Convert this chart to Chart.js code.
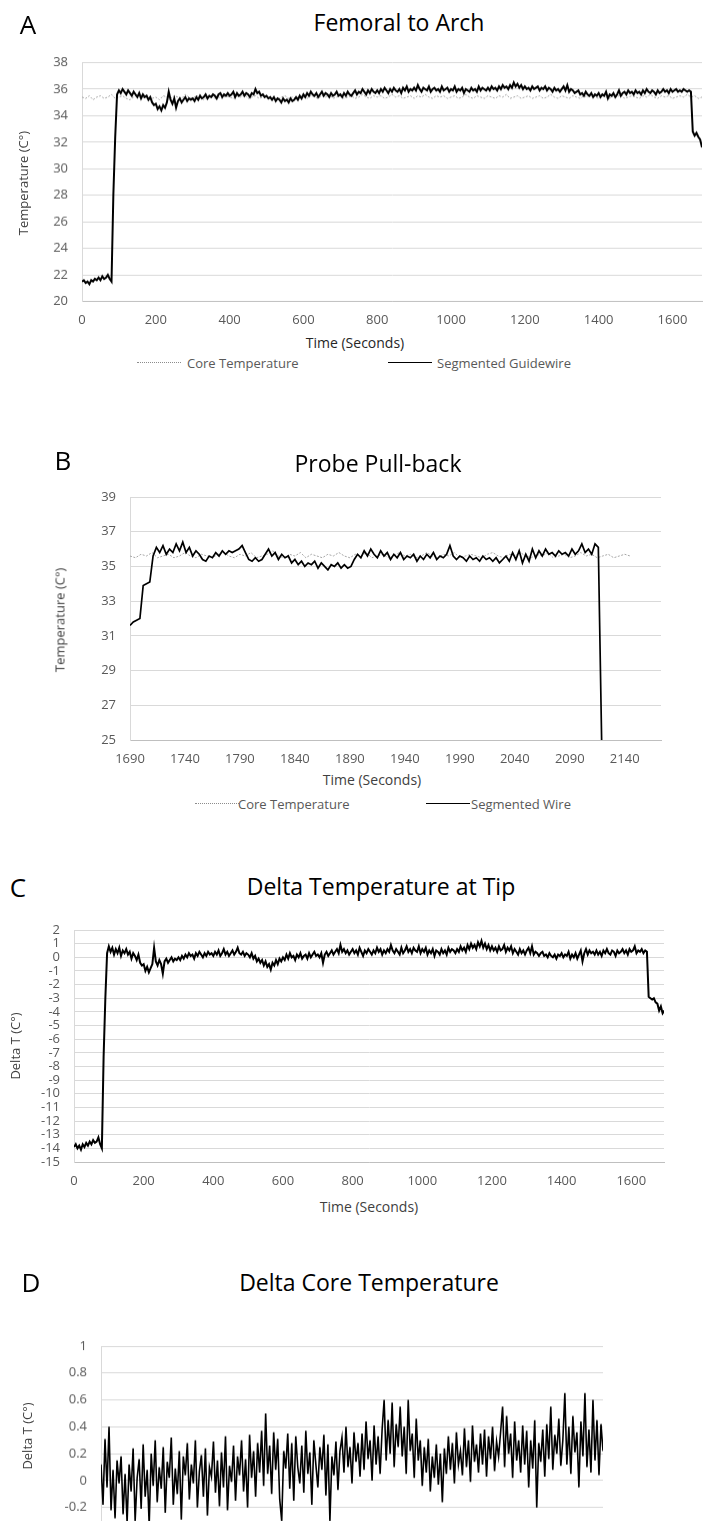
<!DOCTYPE html>
<html>
<head>
<meta charset="utf-8">
<script src="https://cdn.jsdelivr.net/npm/chart.js@4/dist/chart.umd.min.js"></script>
<style>
  html, body { margin: 0; padding: 0; background: #fff; overflow: hidden; }
  #page { position: relative; width: 703px; height: 1521px; overflow: hidden; font-family: 'Open Sans', sans-serif; }
  .panel { position: absolute; left: 0; width: 703px; }
  .label { position: absolute; white-space: nowrap; line-height: 1; }
</style>
</head>
<body>
<div id="page">
  <div class="panel" id="panelA"><canvas id="archChart"></canvas></div>
  <div class="panel" id="panelB"><canvas id="pullbackChart"></canvas></div>
  <div class="panel" id="panelC"><canvas id="tipDeltaChart"></canvas></div>
  <div class="panel" id="panelD"><canvas id="coreDeltaChart"></canvas></div>
</div>
<script>
// ---- Data ----

// A: Femoral to Arch (seconds). Segmented guidewire sampled every 5 s, core every 10 s.
const archSegStart = 0, archSegStep = 5;
const archSegmented = [
  21.5, 21.6, 21.4, 21.5, 21.3, 21.6, 21.5, 21.7, 21.6, 21.8, 21.6, 21.9, 21.7, 21.8, 22.0, 21.7, 21.5, 28.1, 32.4, 35.6,
  35.9, 35.7, 36.0, 35.8, 35.6, 35.9, 35.7, 35.5, 35.8, 35.6, 35.4, 35.7, 35.3, 35.6, 35.4, 35.5, 35.2, 35.4, 35.0, 34.8,
  34.9, 34.5, 34.7, 34.4, 34.8, 34.6, 35.0, 35.8, 35.2, 34.9, 35.3, 34.6, 35.1, 35.3, 35.0, 35.2, 35.4, 35.1, 35.3, 35.2,
  35.3, 35.1, 35.4, 35.2, 35.5, 35.3, 35.4, 35.6, 35.3, 35.5, 35.4, 35.6, 35.5, 35.3, 35.6, 35.7, 35.4, 35.6, 35.5, 35.7,
  35.5, 35.6, 35.8, 35.4, 35.7, 35.5, 35.6, 35.8, 35.5, 35.7, 35.6, 35.4, 35.7, 35.6, 36.0, 35.7, 35.8, 35.5, 35.6, 35.4,
  35.5, 35.3, 35.4, 35.2, 35.4, 35.1, 35.3, 35.2, 35.0, 35.3, 35.1, 35.2, 35.0, 35.3, 35.1, 35.2, 35.4, 35.2, 35.5, 35.3,
  35.6, 35.4, 35.7, 35.5, 35.8, 35.6, 35.5, 35.7, 35.4, 35.6, 35.8, 35.5, 35.7, 35.6, 35.4, 35.7, 35.5, 35.6, 35.8, 35.5,
  35.6, 35.4, 35.7, 35.5, 35.8, 35.6, 35.5, 35.7, 35.9, 35.6, 35.8, 35.7, 36.0, 35.8, 35.6, 35.9, 35.7, 36.0, 35.8, 35.7,
  35.9, 35.7, 36.0, 35.8, 36.1, 35.9, 35.7, 36.0, 35.8, 36.1, 35.9, 35.8, 36.0, 35.7, 36.1, 35.9, 36.2, 35.8, 36.0, 35.9,
  36.1, 35.9, 36.3, 36.0, 35.8, 36.1, 36.0, 35.9, 36.2, 35.8, 36.0, 36.1, 35.9, 36.0, 35.8, 36.2, 35.9, 36.0, 36.1, 35.8,
  36.0, 35.9, 36.2, 35.8, 36.0, 35.9, 36.1, 35.7, 36.0, 35.9, 35.8, 36.1, 35.9, 36.0, 35.8, 36.2, 35.9, 36.1, 36.0, 35.9,
  36.1, 35.9, 36.2, 36.0, 36.1, 35.9, 36.2, 36.0, 36.3, 36.1, 36.2, 36.0, 36.3, 36.1, 36.5, 36.2, 36.4, 36.1, 36.3, 36.0,
  36.2, 36.0, 36.1, 35.9, 36.2, 36.0, 36.1, 36.2, 35.9, 36.1, 36.0, 36.2, 35.9, 36.1, 36.0, 35.8, 36.1, 35.9, 36.0, 35.8,
  36.0, 36.2, 35.9, 36.3, 35.8, 36.0, 35.9, 35.7, 35.8, 35.9, 35.6, 35.7, 35.5, 35.8, 35.6, 35.5, 35.7, 35.4, 35.6, 35.5,
  35.7, 35.4, 35.6, 35.5, 35.8, 35.3, 35.6, 35.5, 35.7, 35.4, 35.6, 35.9, 35.5, 35.7, 35.8, 35.6, 35.9, 35.7, 35.8, 35.6,
  35.9, 35.7, 35.8, 35.6, 35.9, 35.7, 36.0, 35.8, 35.7, 35.9, 35.8, 35.6, 35.9, 35.7, 35.8, 36.0, 35.8, 35.9, 35.7, 36.0,
  35.8, 35.9, 36.0, 35.8, 35.9, 35.8, 36.0, 35.9, 35.8, 35.9, 35.8, 32.8, 32.5, 32.7, 32.4, 32.2, 31.6, 31.4
];
const archCoreStart = 0, archCoreStep = 10;
const archCore = [
  35.4, 35.3, 35.5, 35.2, 35.4, 35.5, 35.3, 35.4, 35.6, 35.3,
  35.4, 35.5, 35.3, 35.2, 35.4, 35.6, 35.3, 35.4, 35.5, 35.3,
  35.4, 35.2, 35.5, 35.4, 35.3, 35.5, 35.4, 35.3, 35.6, 35.4,
  35.3, 35.5, 35.4, 35.2, 35.4, 35.5, 35.3, 35.4, 35.3, 35.5,
  35.4, 35.3, 35.5, 35.4, 35.6, 35.3, 35.4, 35.5, 35.3, 35.4,
  35.5, 35.3, 35.4, 35.2, 35.4, 35.5, 35.3, 35.4, 35.3, 35.5,
  35.4, 35.3, 35.5, 35.4, 35.3, 35.5, 35.4, 35.6, 35.3, 35.4,
  35.5, 35.3, 35.4, 35.5, 35.3, 35.4, 35.6, 35.4, 35.3, 35.5,
  35.4, 35.5, 35.3, 35.4, 35.6, 35.4, 35.5, 35.3, 35.4, 35.5,
  35.3, 35.5, 35.4, 35.6, 35.4, 35.3, 35.5, 35.4, 35.5, 35.3,
  35.4, 35.5, 35.3, 35.4, 35.6, 35.4, 35.3, 35.5, 35.4, 35.3,
  35.5, 35.4, 35.3, 35.5, 35.4, 35.6, 35.3, 35.4, 35.5, 35.3,
  35.4, 35.5, 35.3, 35.4, 35.5, 35.3, 35.4, 35.6, 35.4, 35.3,
  35.5, 35.4, 35.3, 35.5, 35.4, 35.3, 35.5, 35.4, 35.6, 35.4,
  35.3, 35.5, 35.4, 35.3, 35.5, 35.4, 35.6, 35.3, 35.4, 35.5,
  35.4, 35.3, 35.5, 35.4, 35.6, 35.4, 35.3, 35.5, 35.4, 35.5,
  35.3, 35.4, 35.5, 35.4, 35.6, 35.4, 35.5, 35.3, 35.4
];
const archTimeTicks = [0, 200, 400, 600, 800, 1000, 1200, 1400, 1600];

// B: Probe Pull-back. Wire sampled every 3 s, core every 5 s, both from 1690 s.
const pullSegStart = 1690, pullSegStep = 3;
const pullSegmented = [
  31.6, 31.8, 31.9, 32.0, 33.9, 34.0, 34.1, 35.6, 36.1, 35.8,
  36.2, 35.7, 36.0, 35.8, 36.3, 35.9, 36.4, 35.8, 36.1, 35.6,
  35.9, 35.7, 35.4, 35.3, 35.6, 35.5, 35.8, 35.6, 35.9, 35.7,
  35.9, 35.8, 35.9, 36.0, 36.2, 35.8, 35.4, 35.3, 35.5, 35.3,
  35.4, 35.7, 36.0, 35.6, 35.8, 35.4, 35.7, 35.5, 35.6, 35.2,
  35.4, 35.1, 35.3, 35.0, 35.2, 35.1, 35.3, 34.9, 35.2, 35.0,
  34.8, 35.1, 35.0, 35.2, 34.9, 35.1, 34.9, 35.0, 35.4, 35.7,
  35.5, 35.9, 35.6, 36.0, 35.7, 35.5, 35.9, 35.6, 35.8, 35.4,
  35.7, 35.5, 35.8, 35.4, 35.6, 35.5, 35.7, 35.3, 35.6, 35.4,
  35.7, 35.5, 35.8, 35.4, 35.6, 35.5, 35.7, 36.2, 35.6, 35.4,
  35.6, 35.5, 35.3, 35.6, 35.4, 35.5, 35.3, 35.6, 35.4, 35.5,
  35.3, 35.5, 35.2, 35.4, 35.6, 35.3, 35.8, 35.4, 35.9, 35.2,
  35.7, 35.3, 36.0, 35.5, 35.9, 35.6, 36.0, 35.7, 35.8, 35.6,
  35.9, 35.7, 35.8, 35.6, 36.0, 35.7, 35.9, 36.3, 35.8, 36.0,
  35.7, 36.3, 36.1, 25.0, 23.0
];
const pullCoreStart = 1690, pullCoreStep = 5;
const pullCore = [
  35.6, 35.5, 35.7, 35.6, 35.8, 35.5, 35.6, 35.7, 35.5, 35.6,
  35.8, 35.6, 35.5, 35.7, 35.6, 35.5, 35.7, 35.8, 35.6, 35.5,
  35.7, 35.6, 35.8, 35.5, 35.6, 35.7, 35.9, 35.6, 35.5, 35.7,
  35.6, 35.8, 35.5, 35.7, 35.6, 35.5, 35.7, 35.6, 35.8, 35.6,
  35.5, 35.7, 35.6, 35.8, 35.5, 35.6, 35.7, 35.5, 35.6, 35.8,
  35.6, 35.7, 35.5, 35.6, 35.8, 35.6, 35.5, 35.7, 35.6, 35.8,
  35.5, 35.6, 35.7, 35.6, 35.5, 35.7, 35.8, 35.6, 35.5, 35.7,
  35.6, 35.8, 35.6, 35.5, 35.7, 35.6, 35.8, 35.5, 35.6, 35.7,
  35.5, 35.6, 35.8, 35.6, 35.7, 35.5, 35.6, 35.7, 35.5, 35.6,
  35.7, 35.6
];
const pullTimeTicks = [1690, 1740, 1790, 1840, 1890, 1940, 1990, 2040, 2090, 2140];

// C: Delta temperature at tip, every 5 s
const tipStart = 0, tipStep = 5;
const tipDelta = [
  -13.9, -13.7, -14.0, -13.8, -14.1, -13.7, -13.9, -13.6, -13.8, -13.5, -13.7, -13.4, -13.6, -13.5, -13.2, -13.7, -14.0, -7.3, -3.0, 0.3,
  0.8, 0.4, 0.7, 0.2, 0.6, 0.3, 0.7, 0.1, 0.5, 0.3, 0.6, 0.2, 0.4, -0.1, 0.3, 0.1, -0.2, 0.2, -0.4, -0.6,
  -0.5, -1.0, -0.7, -1.1, -0.8, -0.5, 0.7, -0.3, -0.6, -0.2, -0.5, -1.2, -0.3, -0.1, -0.4, -0.2, 0.0, -0.3, -0.1, -0.2,
  0.0, -0.2, 0.1, -0.1, 0.2, 0.0, 0.3, 0.1, 0.2, -0.1, 0.3, 0.1, 0.4, 0.2, 0.0, 0.3, 0.1, 0.4, 0.2, 0.3,
  0.1, 0.4, 0.2, 0.5, 0.1, 0.3, 0.6, 0.2, 0.4, 0.1, 0.3, 0.5, 0.2, 0.4, 0.7, 0.3, 0.2, 0.4, 0.1, 0.3,
  0.2, 0.0, 0.3, -0.1, 0.1, -0.3, -0.1, -0.4, -0.2, -0.6, -0.3, -0.7, -0.5, -0.9, -0.4, -0.6, -0.2, -0.5, -0.1, -0.3,
  0.0, -0.2, 0.2, -0.1, 0.3, 0.0, 0.1, -0.2, 0.2, 0.0, 0.3, -0.1, 0.1, 0.2, -0.1, 0.3, 0.0, 0.2, 0.4, 0.1,
  0.2, 0.0, 0.3, -0.4, 0.2, 0.4, 0.1, 0.3, 0.5, 0.2, 0.4, 0.6, 0.3, 0.9, 0.4, 0.6, 0.3, 0.5, 0.2, 0.4,
  0.6, 0.3, 0.5, 0.2, 0.7, 0.4, 0.1, 0.5, 0.3, 0.6, 0.4, 0.2, 0.5, 0.3, 0.7, 0.4, 0.6, 0.2, 0.5, 0.3,
  0.6, 0.4, 0.9, 0.5, 0.3, 0.6, 0.4, 0.2, 0.7, 0.3, 0.5, 0.8, 0.4, 0.6, 0.3, 0.7, 0.5, 0.4, 0.8, 0.3,
  0.6, 0.4, 0.7, 0.2, 0.5, 0.3, 0.6, 0.1, 0.5, 0.4, 0.2, 0.6, 0.3, 0.5, 0.2, 0.7, 0.4, 0.6, 0.5, 0.3,
  0.6, 0.4, 0.8, 0.5, 0.7, 0.4, 0.9, 0.6, 1.0, 0.7, 0.9, 0.6, 1.1, 0.8, 1.2, 0.7, 1.0, 0.6, 0.9, 0.5,
  0.8, 0.5, 0.7, 0.4, 0.8, 0.5, 0.6, 0.9, 0.4, 0.7, 0.5, 0.8, 0.3, 0.6, 0.4, 0.2, 0.6, 0.3, 0.5, 0.2,
  0.5, 0.7, 0.3, 0.8, 0.2, 0.4, 0.3, 0.1, 0.3, 0.4, 0.1, 0.2, 0.0, 0.3, 0.1, 0.0, 0.2, -0.1, 0.2, 0.1,
  0.3, 0.0, 0.2, 0.1, 0.4, -0.1, 0.2, 0.0, 0.3, -0.1, 0.2, 0.5, -0.3, 0.3, 0.6, 0.2, 0.5, 0.3, 0.4, 0.2,
  0.5, 0.2, 0.4, 0.1, 0.5, 0.3, 0.6, 0.3, 0.2, 0.5, 0.4, 0.1, 0.5, 0.3, 0.4, 0.6, 0.3, 0.5, 0.2, 0.6,
  0.4, 0.5, 0.8, 0.3, 0.5, 0.4, 0.6, 0.3, 0.5, 0.4, -2.9, -3.0, -3.1, -3.0, -3.3, -3.4, -3.9, -3.6, -4.1, -3.9
];
const tipTimeTicks = [0, 200, 400, 600, 800, 1000, 1200, 1400, 1600];

// D: Delta core temperature, successive samples
const coreDelta = [
  0.12, -0.18, 0.31, -0.05, 0.40, -0.22, 0.08, -0.28, 0.15, -0.02,
  0.18, -0.25, 0.05, -0.31, 0.12, -0.08, 0.24, -0.30, 0.02, 0.16,
  -0.21, 0.27, -0.12, 0.08, -0.33, 0.20, -0.04, 0.30, -0.16, 0.10,
  -0.06, 0.25, -0.24, 0.14, 0.02, 0.32, -0.18, 0.09, -0.10, 0.22,
  -0.29, 0.18, 0.04, 0.28, -0.14, 0.12, -0.02, 0.30, -0.20, 0.07,
  0.19, -0.12, 0.24, -0.26, 0.10, 0.03, 0.29, -0.09, 0.15, -0.19,
  0.21, -0.05, 0.33, -0.22, 0.11, -0.01, 0.26, -0.15, 0.18, 0.04,
  0.30, -0.08, 0.16, -0.20, 0.34, 0.02, 0.22, -0.12, 0.28, 0.06,
  0.37, -0.04, 0.50, 0.05, 0.26, -0.10, 0.36, 0.08, 0.31, -0.14,
  -0.30, 0.22, 0.09, 0.35, -0.06, 0.28, -0.15, 0.33, 0.10, -0.02,
  0.26, -0.09, 0.37, 0.05, 0.21, -0.18, 0.30, 0.12, -0.05, 0.25,
  0.08, 0.34, -0.11, 0.27, -0.30, 0.18, 0.04, 0.29, -0.07, 0.22,
  0.32, 0.06, 0.40, 0.10, 0.25, -0.02, 0.36, 0.14, 0.28, 0.03,
  0.35, 0.08, 0.44, 0.16, 0.30, 0.00, 0.41, 0.12, 0.33, 0.05,
  0.38, 0.60, 0.15, 0.45, 0.20, 0.58, 0.10, 0.42, 0.25, 0.55,
  0.18, 0.40, 0.05, 0.60, 0.22, 0.35, 0.02, 0.46, 0.15, 0.30,
  -0.04, 0.25, 0.06, 0.31, -0.08, 0.18, 0.02, 0.27, -0.03, 0.20,
  -0.16, 0.24, 0.05, 0.33, 0.08, 0.28, -0.02, 0.36, 0.12, 0.22,
  0.04, 0.39, 0.10, 0.30, -0.01, 0.41, 0.14, 0.27, 0.06, 0.35,
  0.12, 0.38, 0.03, 0.33, 0.16, 0.40, 0.07, 0.29, 0.18, 0.36,
  0.55, 0.10, 0.48, 0.20, 0.35, 0.02, 0.44, 0.15, 0.30, 0.06,
  0.41, 0.12, 0.37, -0.05, 0.30, 0.09, 0.45, -0.20, 0.28, 0.14,
  0.38, 0.03, 0.42, 0.16, 0.55, 0.08, 0.34, 0.20, 0.46, 0.11,
  0.30, 0.65, 0.12, 0.40, 0.05, 0.48, 0.21, 0.36, -0.05, 0.44,
  0.18, 0.65, 0.10, 0.38, 0.06, 0.60, 0.15, 0.45, 0.04, 0.42, 0.22
];

// ---- Styling ----
const theme = {
  ink: '#000000',
  core: '#a6a6a6',
  grid: '#d9d9d9',
  axisLine: '#bfbfbf',
  tick: '#595959',
  axisTitle: '#404040'
};
Chart.defaults.font.family = "'Open Sans', sans-serif";
Chart.defaults.font.size = 13;
Chart.defaults.color = theme.tick;

const page = document.getElementById('page');

// pair sample times with read values
function toPoints(values, start, step) {
  return values.map((y, i) => ({ x: start + i * step, y }));
}

function placeText(text, x, y, size, color, rotate) {
  const el = document.createElement('div');
  el.className = 'label';
  el.textContent = text;
  el.style.left = x + 'px';
  el.style.top = y + 'px';
  el.style.fontSize = size + 'px';
  el.style.color = color;
  el.style.transform = 'translate(-50%, -50%)' + (rotate ? ' rotate(-90deg)' : '');
  page.appendChild(el);
}

// legend swatches built from the chart's own datasets
function placeLegend(chart, y, slots) {
  chart.data.datasets.forEach((ds, i) => {
    const line = document.createElement('div');
    line.style.cssText = `position:absolute;left:${slots[i][0]}px;top:${y - 1}px;width:44px;` +
      `border-top:${ds.borderDash ? '1.5px dotted' : '1.5px solid'} ${ds.borderDash ? '#8c8c8c' : ds.borderColor};`;
    page.appendChild(line);
    const el = document.createElement('div');
    el.className = 'label';
    el.textContent = ds.label;
    el.style.cssText += `left:${slots[i][1]}px;top:${y}px;font-size:13px;color:${theme.tick};transform:translate(0,-50%);`;
    page.appendChild(el);
  });
}

function lineChart(canvasId, geo, datasets, xCfg, yCfg) {
  const wrap = document.getElementById(canvasId).parentElement;
  wrap.style.top = geo.top + 'px';
  wrap.style.height = geo.height + 'px';
  return new Chart(document.getElementById(canvasId), {
    type: 'line',
    data: { datasets },
    options: {
      responsive: true,
      maintainAspectRatio: false,
      animation: false,
      layout: { padding: { top: geo.padTop, right: geo.padRight, left: 0, bottom: 0 } },
      plugins: { legend: { display: false }, tooltip: { enabled: false } },
      elements: { point: { radius: 0 }, line: { tension: 0 } },
      scales: {
        x: {
          type: 'linear',
          min: xCfg.min,
          max: xCfg.max,
          afterBuildTicks: axis => { axis.ticks = xCfg.ticks.map(value => ({ value })); },
          afterFit: axis => { axis.height = 30; },
          grid: { drawOnChartArea: false, drawTicks: false },
          border: { color: theme.axisLine },
          ticks: { display: xCfg.ticks.length > 0, padding: 11, autoSkip: false, maxRotation: 0, callback: v => String(v) }
        },
        y: {
          min: yCfg.min,
          max: yCfg.max,
          afterFit: axis => { axis.width = geo.yWidth; },
          grid: { color: theme.grid, drawTicks: false },
          border: { color: theme.grid },
          ticks: { stepSize: yCfg.step, autoSkip: false, padding: 14, callback: v => String(Math.round(v * 100) / 100) }
        }
      }
    }
  });
}

function coreSet(label, points) {
  return { label, data: points, borderColor: theme.core, borderWidth: 1, borderDash: [2, 1.5], order: 2 };
}
function wireSet(label, points, width) {
  return { label, data: points, borderColor: theme.ink, borderWidth: width, order: 1 };
}

// ---- Panel A ----
function renderArchChart() {
  const chart = lineChart('archChart',
    { top: 40, height: 290.5, padTop: 22.5, padRight: 0, yWidth: 82 },
    [
      coreSet('Core Temperature', toPoints(archCore, archCoreStart, archCoreStep)),
      wireSet('Segmented Guidewire', toPoints(archSegmented, archSegStart, archSegStep), 2)
    ],
    { min: 0, max: 1680, ticks: archTimeTicks },
    { min: 20, max: 38, step: 2 });
  placeText('A', 28, 24, 26, '#000');
  placeText('Femoral to Arch', 399, 22, 23, '#000');
  placeText('Temperature  (C°)', 23, 183, 13, theme.axisTitle, true);
  placeText('Time (Seconds)', 355, 343, 14, '#262626');
  placeLegend(chart, 363, [[137, 187], [388, 437]]);
}

// ---- Panel B ----
function renderPullbackChart() {
  const chart = lineChart('pullbackChart',
    { top: 470, height: 300, padTop: 27, padRight: 42, yWidth: 130 },
    [
      coreSet('Core Temperature', toPoints(pullCore, pullCoreStart, pullCoreStep)),
      wireSet('Segmented Wire', toPoints(pullSegmented, pullSegStart, pullSegStep), 1.7)
    ],
    { min: 1690, max: 2173, ticks: pullTimeTicks },
    { min: 25, max: 39, step: 2 });
  placeText('B', 63, 460, 26, '#000');
  placeText('Probe Pull-back', 378, 463, 23, '#000');
  placeText('Temperature (C°)', 60, 620, 13, theme.axisTitle, true);
  placeText('Time (Seconds)', 372, 780, 14, theme.axisTitle);
  placeLegend(chart, 804, [[195, 238], [426, 471]]);
}

// ---- Panel C ----
function renderTipDeltaChart() {
  lineChart('tipDeltaChart',
    { top: 905, height: 287, padTop: 25, padRight: 39, yWidth: 74 },
    [wireSet('Delta T', toPoints(tipDelta, tipStart, tipStep), 2)],
    { min: 0, max: 1694, ticks: tipTimeTicks },
    { min: -15, max: 2, step: 1 });
  placeText('C', 18, 887, 26, '#000');
  placeText('Delta Temperature at Tip', 381, 886, 23, '#000');
  placeText('Delta T (C°)', 15, 1046, 13, theme.axisTitle, true);
  placeText('Time (Seconds)', 369, 1207, 14, theme.axisTitle);
}

// ---- Panel D ----
function renderCoreDeltaChart() {
  lineChart('coreDeltaChart',
    { top: 1320, height: 243.5, padTop: 26, padRight: 100, yWidth: 101 },
    [wireSet('Delta Core', toPoints(coreDelta, 0, 1), 1.6)],
    { min: 0, max: coreDelta.length - 1, ticks: [] },
    { min: -0.4, max: 1, step: 0.2 });
  placeText('D', 31, 1282, 26, '#000');
  placeText('Delta Core Temperature', 369, 1282, 23, '#000');
  placeText('Delta T (C°)', 27, 1436, 13, theme.axisTitle, true);
}

renderArchChart();
renderPullbackChart();
renderTipDeltaChart();
renderCoreDeltaChart();
</script>
</body>
</html>
